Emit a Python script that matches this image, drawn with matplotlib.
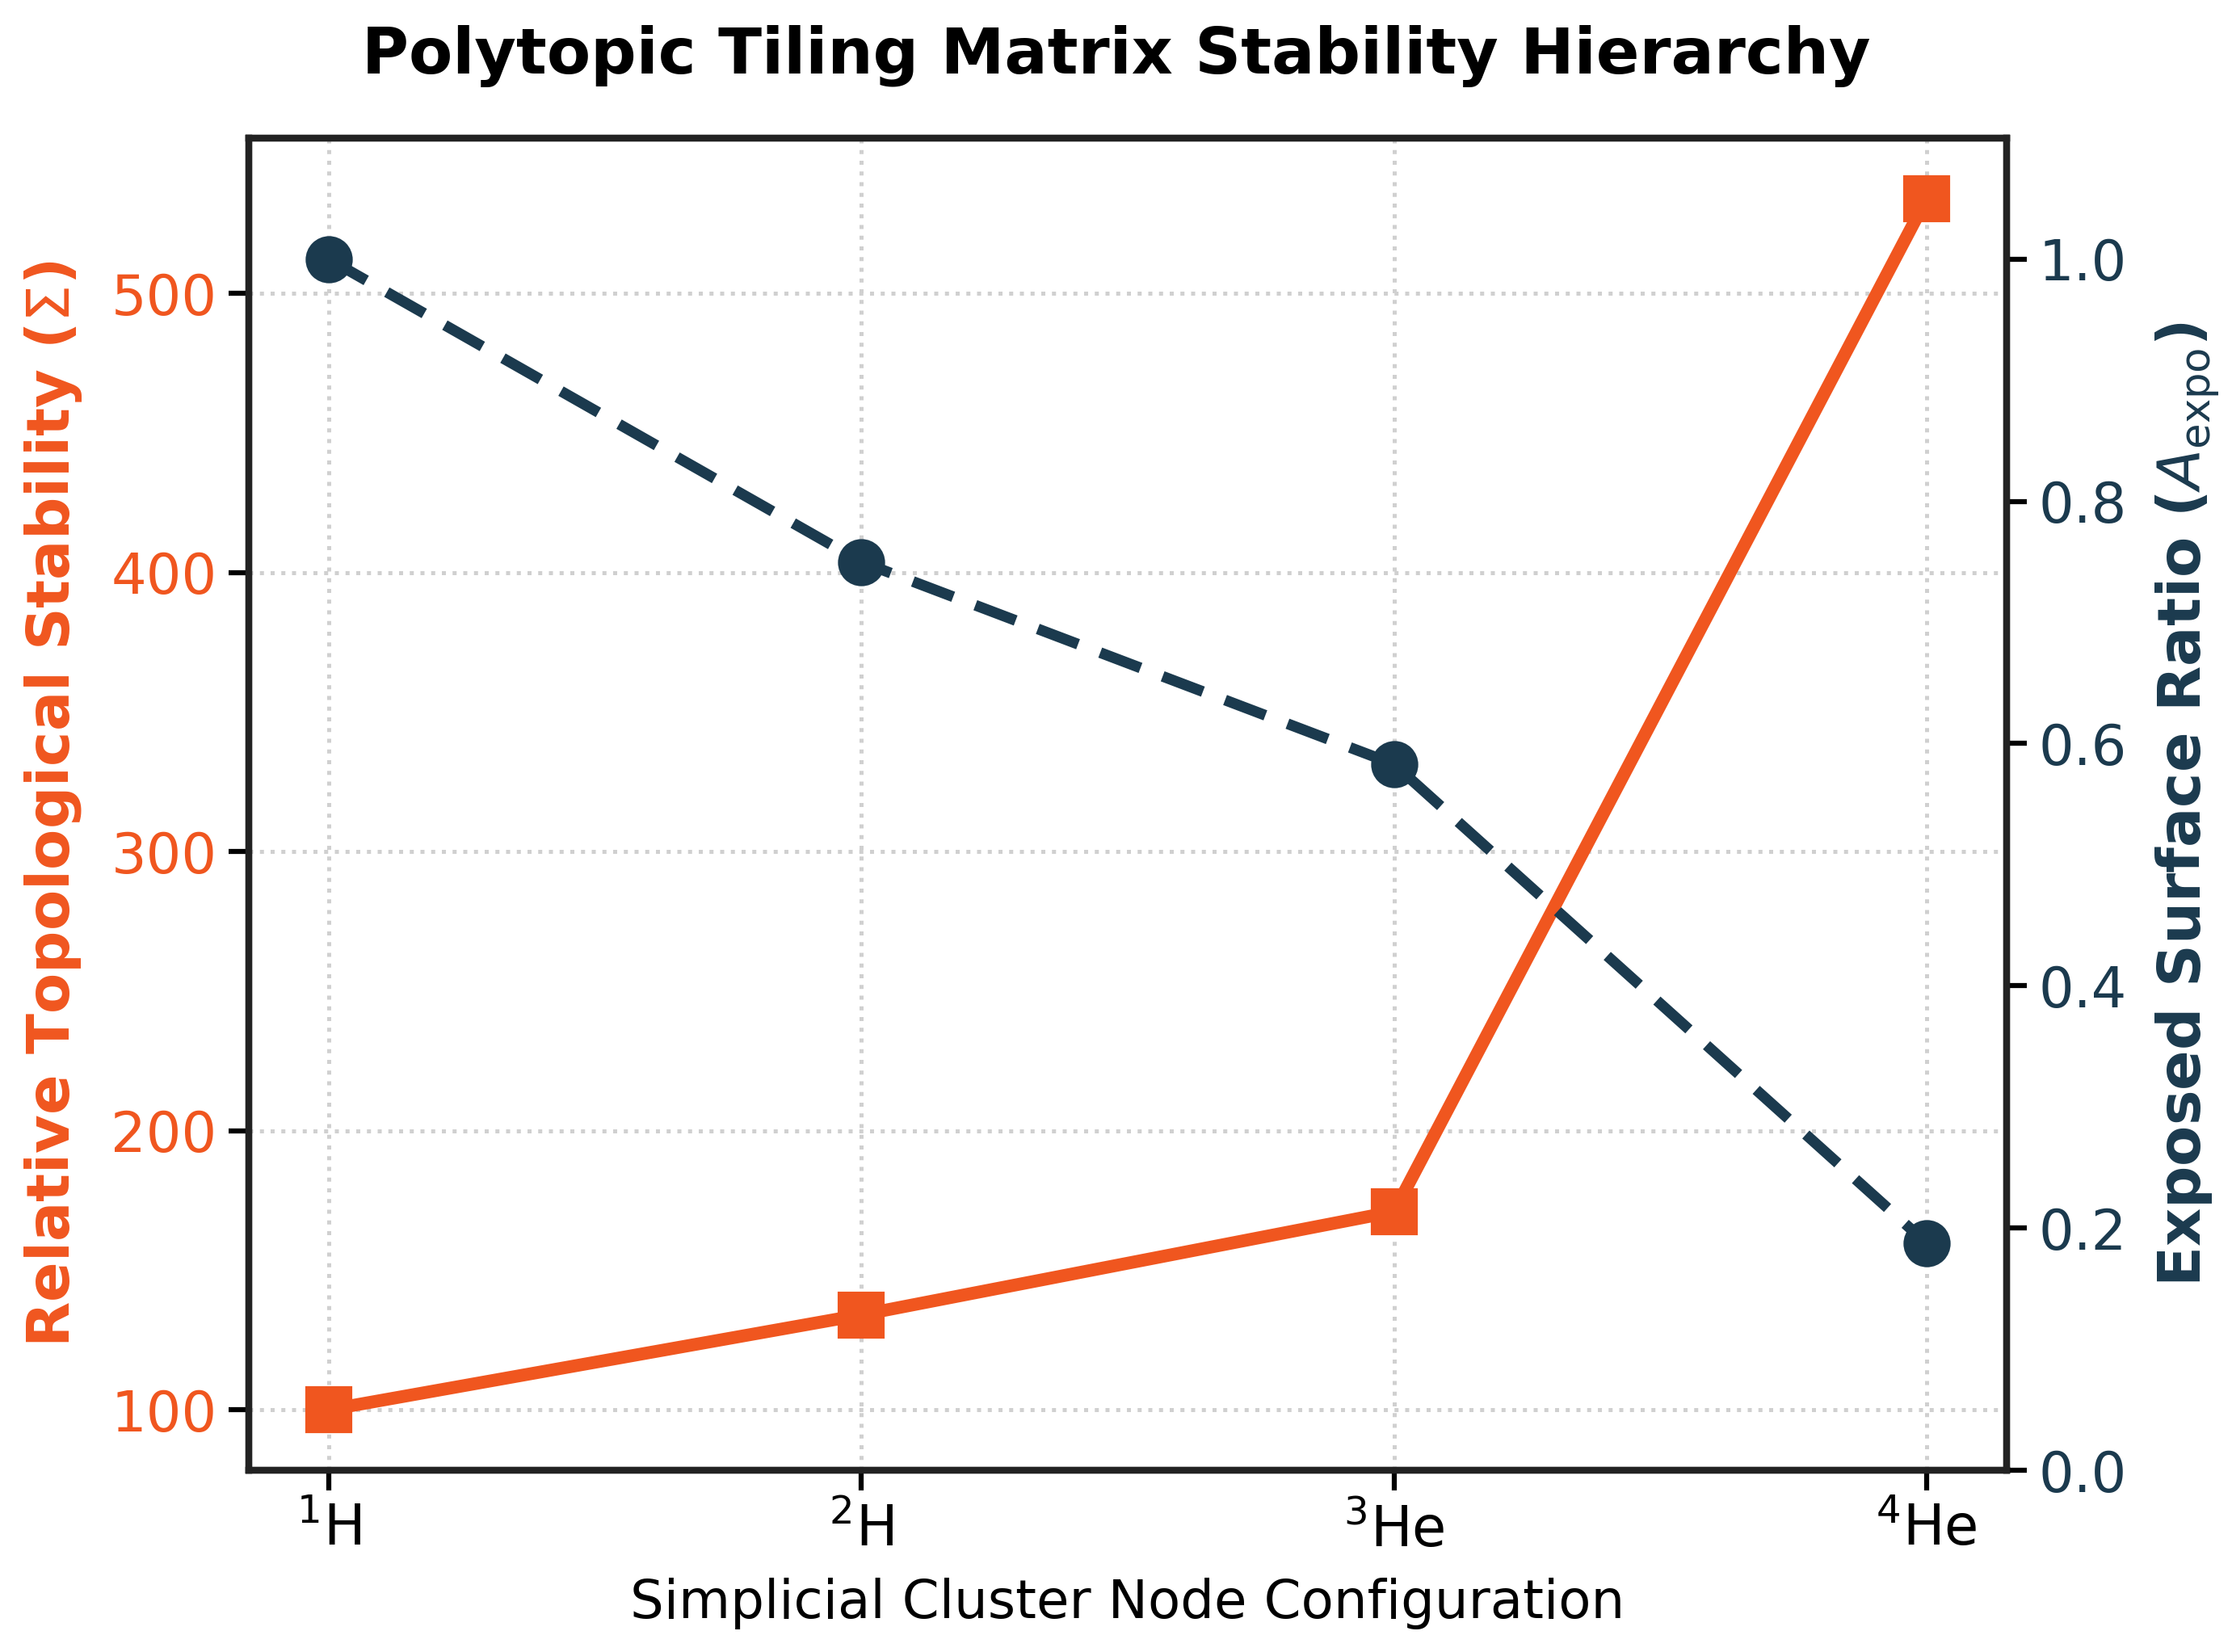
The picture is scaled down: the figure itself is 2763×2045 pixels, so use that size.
import matplotlib
matplotlib.use("Agg")
import matplotlib.pyplot as plt

# data
nodes = ["$^{1}$H", "$^{2}$H", "$^{3}$He", "$^{4}$He"]
stability = [100, 134, 171, 534]
surface_ratio = [1.0, 0.75, 0.583, 0.1875]

orange = "#F0561F"
navy = "#1B3A4E"

plt.rcParams["font.family"] = "DejaVu Sans"

fig = plt.figure(figsize=(9.21, 6.817), dpi=300)
ax1 = fig.add_axes([0.1115, 0.110, 0.7875, 0.8064])
ax2 = ax1.twinx()

x = list(range(len(nodes)))
ax1.plot(x, stability, color=orange, lw=3.8, marker="s", markersize=13, zorder=3)
ax2.plot(x, surface_ratio, color=navy, lw=3.2, ls="--", dashes=(4, 2.2),
         marker="o", markersize=13, zorder=3)

ax1.set_xticks(x)
ax1.set_xticklabels(nodes, fontsize=16.5)
ax1.set_xlabel("Simplicial Cluster Node Configuration", fontsize=15.8, labelpad=6)
ax1.set_ylabel(r"Relative Topological Stability ($\Sigma$)", fontsize=17.6,
               fontweight="bold", color=orange, labelpad=8)
ax2.set_ylabel(r"Exposed Surface Ratio ($A_{\mathrm{expo}}$)", fontsize=17.6,
               fontweight="bold", color=navy, labelpad=8)

ax1.set_yticks([100, 200, 300, 400, 500])
ax2.set_ylim(0, 1.1)
ax2.set_yticks([0.0, 0.2, 0.4, 0.6, 0.8, 1.0])

ax1.tick_params(axis="y", labelcolor=orange, labelsize=16.5, length=6, width=1.5)
ax2.tick_params(axis="y", labelcolor=navy, labelsize=16.5, length=6, width=1.5)
ax1.tick_params(axis="x", labelsize=16.5, length=6, width=1.5)

ax1.grid(True, ls=":", color="#d0d0d0", lw=1.2)

for ax in (ax1, ax2):
    for s in ax.spines.values():
        s.set_linewidth(2)
        s.set_color("#222222")

fig.suptitle("Polytopic Tiling Matrix Stability Hierarchy", fontsize=19,
             fontweight="bold", y=0.985)

fig.savefig("out.png", dpi=300)
